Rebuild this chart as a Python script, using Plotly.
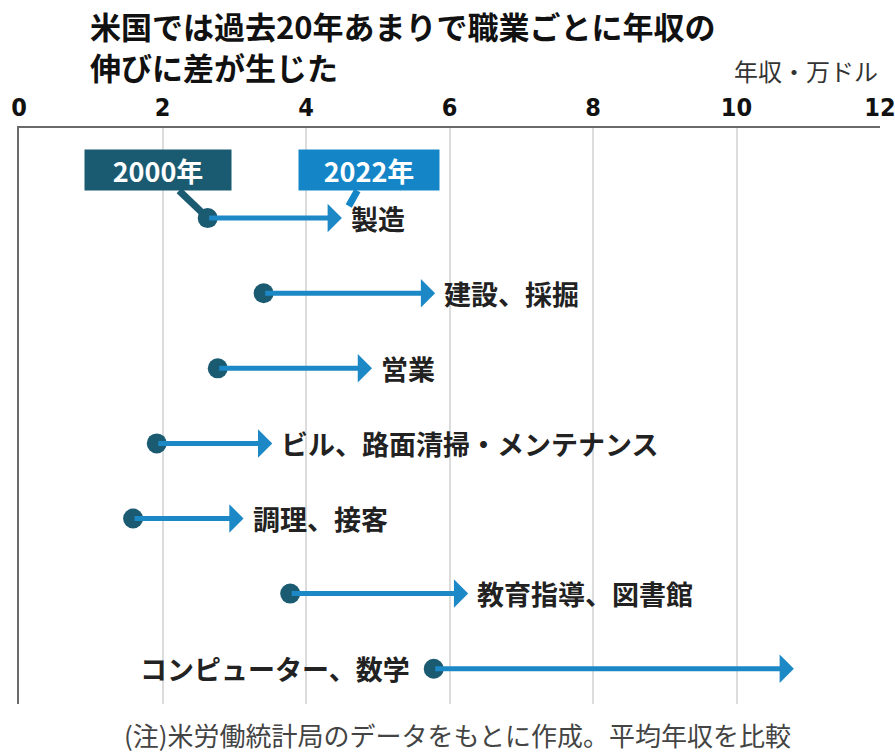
import plotly.graph_objects as go

categories = ["製造", "建設、採掘", "営業", "ビル、路面清掃・メンテナンス",
              "調理、接客", "教育指導、図書館", "コンピューター、数学"]
income_2000 = [2.63, 3.41, 2.77, 1.92, 1.59, 3.78, 5.78]
income_2022 = [4.50, 5.80, 4.92, 3.53, 3.13, 6.26, 10.80]
x_ticks = [0, 2, 4, 6, 8, 10, 12]

DOT = "#1b5b72"
ARROW = "#1d88c6"
JP = "Noto Sans CJK JP"

rows = list(range(len(categories)))

fig = go.Figure()
fig.add_trace(go.Scatter(
    x=income_2000, y=rows, mode="markers",
    marker=dict(size=20, color=DOT), showlegend=False, hoverinfo="skip"))

annotations = []
for i, cat in enumerate(categories):
    annotations.append(dict(
        x=income_2022[i], y=i, ax=income_2000[i], ay=i,
        xref="x", yref="y", axref="x", ayref="y",
        showarrow=True, arrowhead=1, arrowsize=0.95, arrowwidth=5,
        arrowcolor=ARROW, text=""))
    if i == len(categories) - 1:
        annotations.append(dict(
            x=income_2000[i], y=i, xref="x", yref="y", text=f"<b>{cat}</b>",
            showarrow=False, xanchor="right", xshift=-22,
            font=dict(family=JP, size=27, color="#222")))
    else:
        annotations.append(dict(
            x=income_2022[i], y=i, xref="x", yref="y", text=f"<b>{cat}</b>",
            showarrow=False, xanchor="left", xshift=7,
            font=dict(family=JP, size=27, color="#222")))

# callouts
annotations.append(dict(
    x=income_2000[0], y=0, xref="x", yref="y", text="<b>2000年</b>",
    showarrow=True, arrowhead=0, arrowwidth=7, arrowcolor=DOT,
    ax=-50, ay=-48, standoff=8, bgcolor=DOT, borderpad=3,
    width=140, height=34,
    font=dict(family=JP, size=27, color="white")))
annotations.append(dict(
    x=income_2022[0], y=0, xref="x", yref="y", text="<b>2022年</b>",
    showarrow=True, arrowhead=0, arrowwidth=7, arrowcolor="#1486c8",
    ax=27, ay=-48, standoff=14, bgcolor="#1486c8", borderpad=3,
    width=134, height=34,
    font=dict(family=JP, size=27, color="white")))

title_lines = ["米国では過去20年あまりで職業ごとに年収の", "伸びに差が生じた"]
for line, shift in zip(title_lines, [103, 62]):
    annotations.append(dict(
        x=(88 - 19) / 861, y=1, xref="paper", yref="paper",
        text=f"<b>{line}</b>",
        showarrow=False, xanchor="left", yanchor="middle", yshift=shift,
        font=dict(family=JP, size=31, color="#111")))
annotations.append(dict(
    x=1, y=1, xref="paper", yref="paper", text="年収・万ドル",
    showarrow=False, xanchor="right", yanchor="middle", yshift=58,
    font=dict(family=JP, size=24, color="#333")))
annotations.append(dict(
    x=(122 - 19) / 861, y=0, xref="paper", yref="paper",
    text="(注)米労働統計局のデータをもとに作成。平均年収を比較",
    showarrow=False, xanchor="left", yanchor="middle", yshift=-30,
    font=dict(family=JP, size=26, color="#444")))

fig.update_layout(
    width=895, height=754,
    margin=dict(l=19, r=15, t=128, b=50, autoexpand=False),
    plot_bgcolor="white", paper_bgcolor="white",
    annotations=annotations,
    xaxis=dict(side="top", range=[0, 12], tickvals=x_ticks,
               showgrid=True, gridcolor="#dcdcdc", gridwidth=1.5,
               showline=True, linecolor="#6a6a6a", linewidth=2,
               ticks="", ticklabelstandoff=0, ticklabeloverflow="allow",
               tickfont=dict(family="DejaVu Sans Condensed, Roboto, sans-serif",
                             size=25, color="#111", weight="bold"),
               zeroline=False, fixedrange=True, automargin=False),
    yaxis=dict(range=[6.47, -1.2], showticklabels=False, showgrid=False,
               zeroline=False, showline=True, linecolor="#6a6a6a", linewidth=2,
               automargin=False),
)

fig.write_html("out.html")
